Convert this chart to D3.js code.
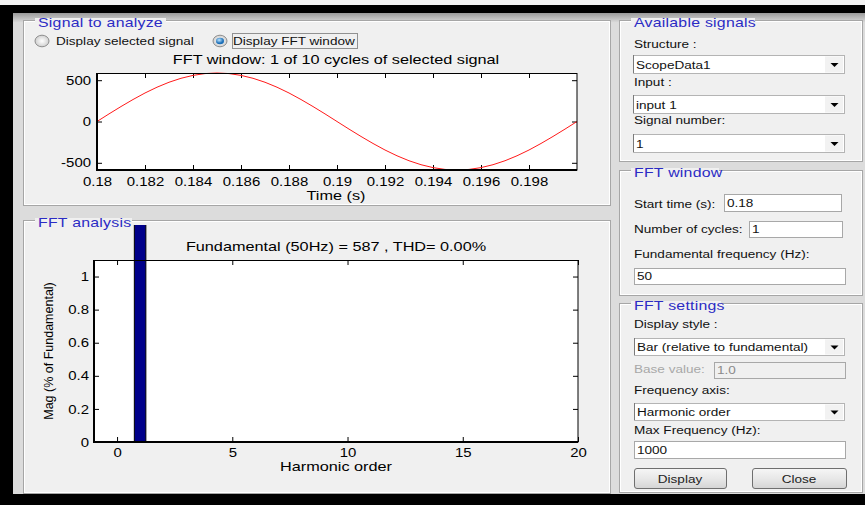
<!DOCTYPE html>
<html>
<head>
<meta charset="utf-8">
<script src="https://cdn.jsdelivr.net/npm/d3@7"></script>
<style>
  body { margin: 0; background: #000; }
  svg { display: block; }
  text { font-family: "Liberation Sans", Arial, sans-serif; }
</style>
</head>
<body>
<svg id="gui" width="865" height="505"></svg>
<script>
// ---- Signal inside the FFT window (one cycle of the 50 Hz signal) ----
const timeSamples = [
  0.18, 0.1805, 0.181, 0.1815, 0.182, 0.1825, 0.183, 0.1835, 0.184, 0.1845,
  0.185, 0.1855, 0.186, 0.1865, 0.187, 0.1875, 0.188, 0.1885, 0.189, 0.1895,
  0.19, 0.1905, 0.191, 0.1915, 0.192, 0.1925, 0.193, 0.1935, 0.194, 0.1945,
  0.195, 0.1955, 0.196, 0.1965, 0.197, 0.1975, 0.198, 0.1985, 0.199, 0.1995, 0.2
];
const signalValues = [
  0, 92, 181, 266, 345, 415, 475, 523, 558, 580,
  587, 580, 558, 523, 475, 415, 345, 266, 181, 92,
  0, -92, -181, -266, -345, -415, -475, -523, -558, -580,
  -587, -580, -558, -523, -475, -415, -345, -266, -181, -92, 0
];
const timeTicks = [0.18, 0.182, 0.184, 0.186, 0.188, 0.19, 0.192, 0.194, 0.196, 0.198];
const signalTicks = [-500, 0, 500];

// ---- Harmonic spectrum (magnitude in % of fundamental) ----
const harmonicOrders = [0, 1, 2, 3, 4, 5, 6, 7, 8, 9, 10, 11, 12, 13, 14, 15, 16, 17, 18, 19, 20];
const harmonicMagnitudes = [0, 100, 0, 0, 0, 0, 0, 0, 0, 0, 0, 0, 0, 0, 0, 0, 0, 0, 0, 0, 0];
const harmonicTicks = [0, 5, 10, 15, 20];
const magnitudeTicks = [0, 0.2, 0.4, 0.6, 0.8, 1];

const fundamentalFreq = 50;
const fundamentalMag = 587;
const thdPercent = 0.00;

const svg = d3.select("#gui");
const defs = svg.append("defs");
const BLUE = "#2b2bc4";
const PANEL_BG = "#f0f0f0";
const SX = 1.25;          // horizontal stretch of the plot font

// ---- Text helper: text placed at (x, y), widened horizontally ----
function txt(parent, x, y, str, opts = {}) {
  return parent.append("text")
    .attr("transform", `translate(${x},${y}) scale(${opts.sx || SX},1)`)
    .attr("font-size", opts.size || 11.5)
    .attr("fill", opts.fill || "#111")
    .attr("text-anchor", opts.anchor || "start")
    .text(str);
}
const label = (x, y, str, opts) => txt(svg, x, y, str, Object.assign({ sx: 1.18 }, opts || {}));

// ---- Window frame ----
svg.append("rect").attr("width", 865).attr("height", 505).attr("fill", "#000");
svg.append("rect").attr("width", 865).attr("height", 5).attr("fill", "#f4f4f4");
const winGrad = defs.append("linearGradient")
  .attr("id", "winGrad").attr("x1", 0).attr("y1", 0).attr("x2", 0).attr("y2", 1);
winGrad.append("stop").attr("offset", "0").attr("stop-color", "#9a9a9a");
winGrad.append("stop").attr("offset", "0.02").attr("stop-color", "#dcdcdc");
winGrad.append("stop").attr("offset", "1").attr("stop-color", "#dcdcdc");
svg.append("rect").attr("x", 13).attr("y", 13).attr("width", 852).attr("height", 481)
  .attr("fill", "url(#winGrad)");

// ---- Etched panels ----
function panel(x, y, w, h, title, titleW) {
  const g = svg.append("g");
  g.append("rect").attr("x", x).attr("y", y).attr("width", w).attr("height", h).attr("fill", PANEL_BG);
  g.append("rect").attr("x", x + 0.5).attr("y", y + 0.5).attr("width", w - 1).attr("height", h - 1)
    .attr("fill", "none").attr("stroke", "#a6a6a6");
  g.append("rect").attr("x", x + 1.5).attr("y", y + 1.5).attr("width", w - 3).attr("height", h - 3)
    .attr("fill", "none").attr("stroke", "#ffffff");
  g.append("rect").attr("x", x + 12).attr("y", y - 2).attr("width", titleW).attr("height", 8).attr("fill", PANEL_BG);
  txt(g, x + 15, y + 7, title, { size: 13, sx: 1.22, fill: BLUE }).attr("letter-spacing", 0.2);
  return g;
}
panel(23, 20, 588, 186, "Signal to analyze", 131);
panel(23, 220, 588, 274, "FFT analysis", 97);
panel(619, 20, 244, 142, "Available signals", 124);
panel(619, 170, 244, 126, "FFT window", 88);
panel(619, 303, 244, 190, "FFT settings", 90);

// ---- Radio buttons ----
const radGrad = defs.append("radialGradient").attr("id", "radGrad");
radGrad.append("stop").attr("offset", "0").attr("stop-color", "#ffffff");
radGrad.append("stop").attr("offset", "1").attr("stop-color", "#cfcfcf");
const dotGrad = defs.append("radialGradient").attr("id", "dotGrad").attr("cx", 0.4).attr("cy", 0.35);
dotGrad.append("stop").attr("offset", "0").attr("stop-color", "#bfe6ff");
dotGrad.append("stop").attr("offset", "1").attr("stop-color", "#1c6fb8");

svg.append("ellipse").attr("cx", 42).attr("cy", 41).attr("rx", 7).attr("ry", 5.8)
  .attr("fill", "url(#radGrad)").attr("stroke", "#8e8e8e");
label(56, 45, "Display selected signal");
svg.append("ellipse").attr("cx", 220).attr("cy", 41).attr("rx", 7).attr("ry", 5.8)
  .attr("fill", "url(#radGrad)").attr("stroke", "#8e8e8e");
svg.append("ellipse").attr("cx", 220).attr("cy", 41).attr("rx", 4).attr("ry", 3.2).attr("fill", "url(#dotGrad)");
label(233, 45, "Display FFT window");
svg.append("rect").attr("x", 232.5).attr("y", 33.5).attr("width", 125).attr("height", 15)
  .attr("fill", "none").attr("stroke", "#333").attr("stroke-dasharray", "1,1");

// ---- Axes helpers ----
function frame(g, x0, x1, y0, y1) {
  g.append("rect").attr("x", x0).attr("y", y0).attr("width", x1 - x0).attr("height", y1 - y0)
    .attr("fill", "#fff");
}
function box(g, x0, x1, y0, y1) {
  g.append("rect").attr("x", x0).attr("y", y0 + 0.5).attr("width", x1 - x0).attr("height", y1 - y0 - 0.5)
    .attr("fill", "none").attr("stroke", "#000").attr("stroke-width", 1);
  g.append("line").attr("x1", x0).attr("x2", x0).attr("y1", y0).attr("y2", y1 + 1)
    .attr("stroke", "#000").attr("stroke-width", 2);
  g.append("line").attr("x1", x0 - 1).attr("x2", x1).attr("y1", y1).attr("y2", y1)
    .attr("stroke", "#000").attr("stroke-width", 2);
}
const TICK_SX = 1.15;
function styleAxis(sel, showLabels, leftPad) {
  sel.select(".domain").remove();
  sel.selectAll(".tick line").attr("stroke", "#000");
  const t = sel.selectAll(".tick text")
    .attr("font-family", "'Liberation Sans', Arial, sans-serif")
    .attr("font-size", 13).attr("fill", "#000")
    .attr("transform", `scale(${TICK_SX},1)`);
  if (leftPad !== undefined) t.attr("x", -leftPad / TICK_SX);
  if (!showLabels) t.remove();
}

// ---- Upper plot: signal in FFT window ----
const sigPlot = svg.append("g");
const tx = d3.scaleLinear().domain([0.18, 0.2]).range([97, 577]);
const ty = d3.scaleLinear().domain([-587, 587]).range([170, 73]);
frame(sigPlot, 97, 577, 73, 170);

sigPlot.append("g").attr("transform", "translate(0,170)")
  .call(d3.axisBottom(tx).tickValues(timeTicks).tickSizeInner(-5).tickSizeOuter(0).tickPadding(7)
    .tickFormat(d => String(d)))
  .call(s => styleAxis(s, true));
sigPlot.append("g").attr("transform", "translate(0,73)")
  .call(d3.axisTop(tx).tickValues(timeTicks).tickSizeInner(-5).tickSizeOuter(0))
  .call(s => styleAxis(s, false));
sigPlot.append("g").attr("transform", "translate(97,0)")
  .call(d3.axisLeft(ty).tickValues(signalTicks).tickSizeInner(-5).tickSizeOuter(0)
    .tickFormat(d => String(d)))
  .call(s => styleAxis(s, true, 6));
sigPlot.append("g").attr("transform", "translate(577,0)")
  .call(d3.axisRight(ty).tickValues(signalTicks).tickSizeInner(-5).tickSizeOuter(0))
  .call(s => styleAxis(s, false));

const line = d3.line().x((d, i) => tx(timeSamples[i])).y(d => ty(d));
sigPlot.append("path").datum(signalValues).attr("d", line)
  .attr("fill", "none").attr("stroke", "#ff1a1a").attr("stroke-width", 1);
box(sigPlot, 97, 577, 73, 170);

txt(sigPlot, 336, 64, "FFT window: 1 of 10 cycles of selected signal", { size: 13, anchor: "middle", fill: "#000" });
txt(sigPlot, 336, 200, "Time (s)", { size: 13, anchor: "middle", fill: "#000" });

// ---- Lower plot: harmonic spectrum ----
const fftPlot = svg.append("g");
const hx = d3.scaleLinear().domain([-1, 20]).range([94, 578]);
const hy = d3.scaleLinear().domain([0, 1.1]).range([442, 260]);
frame(fftPlot, 94, 578, 260, 442);

fftPlot.append("g").attr("transform", "translate(0,442)")
  .call(d3.axisBottom(hx).tickValues(harmonicTicks).tickSizeInner(-5).tickSizeOuter(0).tickPadding(6)
    .tickFormat(d => String(d)))
  .call(s => styleAxis(s, true));
fftPlot.append("g").attr("transform", "translate(0,260)")
  .call(d3.axisTop(hx).tickValues(harmonicTicks).tickSizeInner(-5).tickSizeOuter(0))
  .call(s => styleAxis(s, false));
fftPlot.append("g").attr("transform", "translate(94,0)")
  .call(d3.axisLeft(hy).tickValues(magnitudeTicks).tickSizeInner(-5).tickSizeOuter(0)
    .tickFormat(d => String(d)))
  .call(s => styleAxis(s, true, 5));
fftPlot.append("g").attr("transform", "translate(578,0)")
  .call(d3.axisRight(hy).tickValues(magnitudeTicks).tickSizeInner(-5).tickSizeOuter(0))
  .call(s => styleAxis(s, false));

// bars are clipped by the FFT analysis panel, not by the axes
defs.append("clipPath").attr("id", "fftClip")
  .append("rect").attr("x", 24).attr("y", 225).attr("width", 586).attr("height", 267);
const barW = hx(0.25) - hx(-0.25);
const barData = harmonicOrders.map((h, i) => ({ h, m: harmonicMagnitudes[i] })).filter(d => d.m > 0);
fftPlot.append("g").attr("clip-path", "url(#fftClip)")
  .selectAll("rect").data(barData)
  .join("rect")
  .attr("x", d => hx(d.h) - barW / 2)
  .attr("width", barW)
  .attr("y", d => hy(d.m))
  .attr("height", d => hy(0) - hy(d.m))
  .attr("fill", "#00008a").attr("stroke", "#000").attr("stroke-width", 1);
box(fftPlot, 94, 578, 260, 442);

txt(fftPlot, 336, 251,
  `Fundamental (${fundamentalFreq}Hz) = ${fundamentalMag} , THD= ${thdPercent.toFixed(2)}%`,
  { size: 13, anchor: "middle", fill: "#000" });
txt(fftPlot, 336, 471, "Harmonic order", { size: 13, anchor: "middle", fill: "#000" });
fftPlot.append("text").attr("transform", "translate(53,351) rotate(-90)").attr("text-anchor", "middle")
  .attr("font-size", 12.5).attr("fill", "#000").text("Mag (% of Fundamental)");

// ---- Right-hand controls ----
function popup(x, y, w, h, str) {
  svg.append("rect").attr("x", x + 0.5).attr("y", y + 0.5).attr("width", w).attr("height", h)
    .attr("fill", "#fff").attr("stroke", "#b4b4b4");
  svg.append("line").attr("x1", x + 0.5).attr("x2", x + 0.5).attr("y1", y).attr("y2", y + h)
    .attr("stroke", "#7a7a7a");
  svg.append("rect").attr("x", x + w - 19).attr("y", y + 1.5).attr("width", 18).attr("height", h - 2)
    .attr("fill", "#f2f2f2");
  const cx = x + w - 9.5, cy = y + h / 2 + 1;
  svg.append("path").attr("d", `M${cx - 4},${cy - 2}L${cx + 4},${cy - 2}L${cx},${cy + 2}Z`).attr("fill", "#000");
  label(x + 3, y + h - 4, str);
}
function edit(x, y, w, h, str, disabled) {
  svg.append("rect").attr("x", x + 0.5).attr("y", y + 0.5).attr("width", w).attr("height", h)
    .attr("fill", disabled ? "#f0f0f0" : "#fff").attr("stroke", "#a8a8a8");
  label(x + 3, y + h - 4, str, { fill: disabled ? "#8a8a8a" : "#111" });
}
function button(x, y, w, h, str) {
  const id = "btn" + Math.round(x);
  const g = defs.append("linearGradient").attr("id", id).attr("x1", 0).attr("y1", 0).attr("x2", 0).attr("y2", 1);
  g.append("stop").attr("offset", "0").attr("stop-color", "#f6f6f6");
  g.append("stop").attr("offset", "0.5").attr("stop-color", "#e8e8e8");
  g.append("stop").attr("offset", "1").attr("stop-color", "#d4d4d4");
  svg.append("rect").attr("x", x + 0.5).attr("y", y + 0.5).attr("width", w).attr("height", h).attr("rx", 2.5)
    .attr("fill", `url(#${id})`).attr("stroke", "#6f6f6f");
  label(x + w / 2, y + h / 2 + 4.5, str, { anchor: "middle", fill: "#222" });
}

label(634, 48, "Structure :");
popup(633, 55, 211, 18, "ScopeData1");
label(634, 86, "Input :");
popup(633, 95, 211, 18, "input 1");
label(634, 124, "Signal number:");
popup(633, 134, 211, 18, "1");

label(634, 208, "Start time (s):");
edit(724, 194, 117, 17, "0.18");
label(634, 233, "Number of cycles:");
edit(749, 221, 93, 16, "1");
label(634, 258, "Fundamental frequency (Hz):");
edit(634, 268, 211, 16, "50");

label(634, 328, "Display style :");
popup(634, 338, 210, 17, "Bar (relative to fundamental)");
label(634, 373, "Base value:", { fill: "#a8a8a8" });
edit(714, 362, 131, 16, "1.0", true);
label(634, 394, "Frequency axis:");
popup(634, 403, 210, 17, "Harmonic order");
label(634, 434, "Max Frequency (Hz):");
edit(634, 441, 211, 17, "1000");

button(634, 468, 92, 20, "Display");
button(752, 468, 94, 20, "Close");
</script>
</body>
</html>
